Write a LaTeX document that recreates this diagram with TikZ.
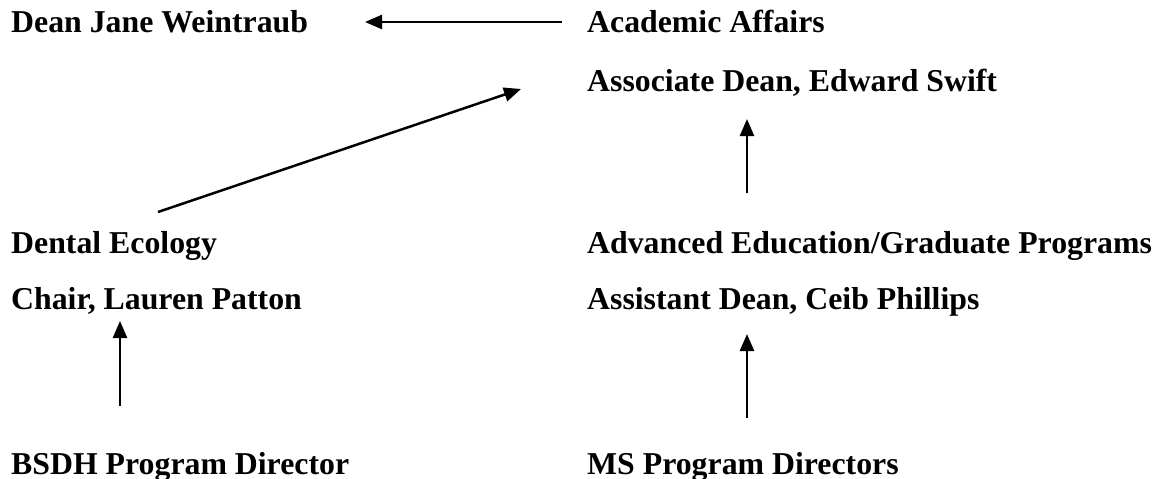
\documentclass[tikz,border=0pt]{standalone}
\usepackage{fontspec}
\setmainfont{Liberation Serif}
\usetikzlibrary{arrows.meta}
\begin{document}
\begin{tikzpicture}[x=1pt,y=-1pt,
  lbl/.style={anchor=base west,inner sep=0pt,font=\fontsize{31.8}{38}\selectfont\bfseries},
  link/.style={line width=2.5pt,-{Triangle[length=17pt,width=14pt]}}]
\useasboundingbox (0,0) rectangle (1160,479);

\node[lbl] (dean) at (11,32) {Dean Jane Weintraub};
\node[lbl] (acad) at (587,32) {Academic Affairs};
\node[lbl] (assoc) at (587,91) {Associate Dean, Edward Swift};
\node[lbl] (ecol) at (11,253) {Dental Ecology};
\node[lbl] (chair) at (11,309) {Chair, Lauren Patton};
\node[lbl] (adved) at (587,253) {Advanced Education/Graduate Programs};
\node[lbl] (asst) at (587,309) {Assistant Dean, Ceib Phillips};
\node[lbl] (bsdh) at (11,474) {BSDH Program Director};
\node[lbl] (msdir) at (587,474) {MS Program Directors};

\coordinate (acad-from) at (562,22);
\coordinate (dean-to) at (365,22);
\coordinate (ecol-from) at (158,212);
\coordinate (assoc-to) at (521,89);
\coordinate (adved-from) at (747,193);
\coordinate (assoc-up) at (747,119);
\coordinate (bsdh-from) at (120,406);
\coordinate (chair-to) at (120,321);
\coordinate (msdir-from) at (747,418);
\coordinate (asst-to) at (747,334);

\draw[link] (acad-from) -- (dean-to);
\draw[link] (ecol-from) -- (assoc-to);
\draw[link] (adved-from) -- (assoc-up);
\draw[link] (bsdh-from) -- (chair-to);
\draw[link] (msdir-from) -- (asst-to);
\end{tikzpicture}
\end{document}
